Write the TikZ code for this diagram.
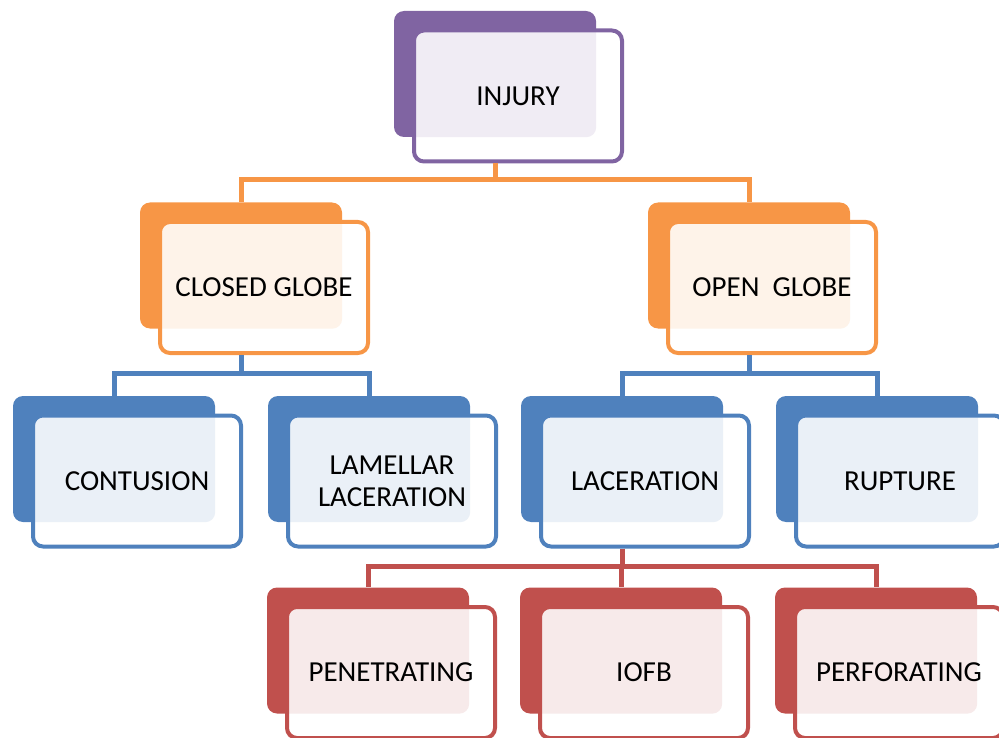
\documentclass[tikz,border=0pt]{standalone}
\usepackage{fontspec}
\setmainfont{Carlito}
\definecolor{cpur}{HTML}{8064A2}
\definecolor{corg}{HTML}{F79646}
\definecolor{cblu}{HTML}{4F81BD}
\definecolor{cred}{HTML}{C0504D}
\tikzset{
  backbox/.style={fill=#1, draw=none, rounded corners=10pt, minimum width=202pt, minimum height=126pt, inner sep=0pt},
  frontbg/.style={fill=white, draw=none, rounded corners=10pt, minimum width=208pt, minimum height=131pt, inner sep=0pt},
  frontfr/.style={draw=#1, line width=4pt, rounded corners=10pt, minimum width=208pt, minimum height=131pt, inner sep=0pt, align=center, text=black, font=\fontsize{29}{32}\selectfont},
  conn/.style={draw=#1, line width=5pt}
}
\newcommand\mkbox[5]{%
  \node[backbox=#2] (#1b) at (#3,#4) {};
  \node[frontbg] (#1f) at (#3+23,#4+22) {};
  \begin{scope}
    \clip[rounded corners=10pt] (#1f.south west) rectangle (#1f.north east);
    \fill[#2!12, rounded corners=10pt] (#1b.south west) rectangle (#1b.north east);
  \end{scope}
  \node[frontfr=#2] (#1) at (#3+23,#4+22) {#5};
}
\begin{document}
\begin{tikzpicture}[x=1pt,y=-1pt]
\useasboundingbox (0,0) rectangle (999,738);
% boxes
\mkbox{inj}{cpur}{495}{74}{INJURY}
\mkbox{cg}{corg}{241}{265.5}{CLOSED GLOBE}
\mkbox{og}{corg}{749}{265.5}{OPEN~~GLOBE}
\mkbox{con}{cblu}{114}{459}{CONTUSION}
\mkbox{lam}{cblu}{369}{459}{LAMELLAR\\LACERATION}
\mkbox{lac}{cblu}{622}{459}{LACERATION}
\mkbox{rup}{cblu}{877}{459}{RUPTURE}
\mkbox{pen}{cred}{368}{650.5}{PENETRATING}
\mkbox{iofb}{cred}{621}{650.5}{IOFB}
\mkbox{perf}{cred}{876}{650.5}{PERFORATING}
% buses
\coordinate (bus1) at (0,180);
\coordinate (bus2) at (0,373);
\coordinate (bus3) at (0,566);
% connectors
\draw[conn=corg] (injb |- inj.south) -- (injb |- bus1);
\draw[conn=corg] (cgb.north) -- (cgb |- bus1) -- (ogb |- bus1) -- (ogb.north);
\draw[conn=cblu] (cgb |- cg.south) -- (cgb |- bus2);
\draw[conn=cblu] (conb.north) -- (conb |- bus2) -- (lamb |- bus2) -- (lamb.north);
\draw[conn=cblu] (ogb |- og.south) -- (ogb |- bus2);
\draw[conn=cblu] (lacb.north) -- (lacb |- bus2) -- (rupb |- bus2) -- (rupb.north);
\draw[conn=cred] (lacb |- lac.south) -- (lacb |- bus3);
\draw[conn=cred] (penb.north) -- (penb |- bus3) -- (perfb |- bus3) -- (perfb.north);
\draw[conn=cred] (iofbb |- bus3) -- (iofbb.north);
\end{tikzpicture}
\end{document}
